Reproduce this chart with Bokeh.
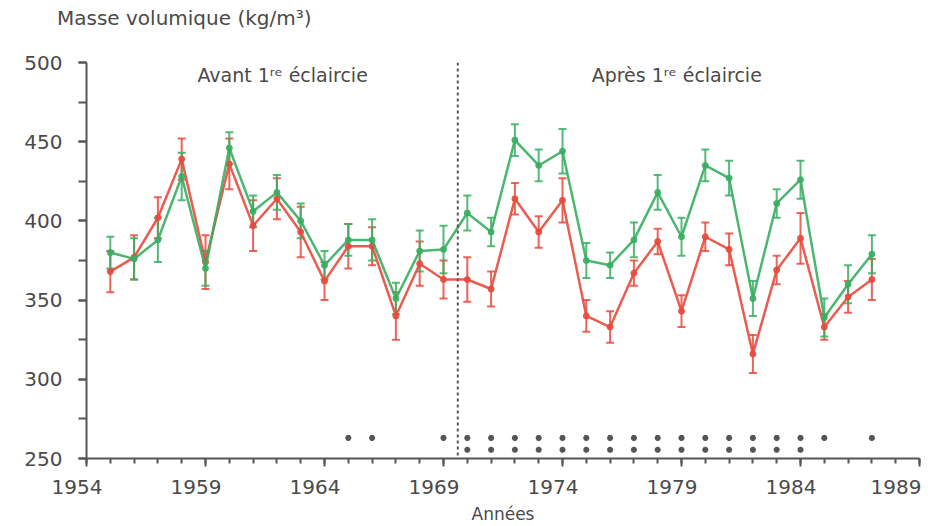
from bokeh.plotting import figure
from bokeh.layouts import column
from bokeh.models import (ColumnDataSource, Range1d, FixedTicker, SingleIntervalTicker,
                          Whisker, TeeHead, Span, Div)
from bokeh.core.properties import value
from bokeh.embed import file_html
from bokeh.resources import INLINE

# Wood density per ring year, two stand groups, with standard errors
years = list(range(1955, 1988))

green_mean = [380, 376, 388, 428, 370, 446, 406, 418, 400, 372, 388, 388, 351, 381, 382,
              405, 393, 451, 435, 444, 375, 372, 388, 418, 390, 435, 427, 351, 411, 426,
              339, 360, 379]
green_err = [10, 13, 14, 15, 11, 10, 10, 11, 11, 9, 10, 13, 10, 13, 15,
             11, 9, 10, 10, 14, 11, 8, 11, 11, 12, 10, 11, 11, 9, 12,
             12, 12, 12]

red_mean = [368, 377, 402, 439, 374, 436, 397, 414, 393, 362, 384, 384, 340, 373, 363,
            363, 357, 414, 393, 413, 340, 333, 367, 387, 343, 390, 382, 316, 369, 389,
            333, 352, 363]
red_err = [13, 14, 13, 13, 17, 16, 16, 13, 16, 12, 14, 12, 15, 14, 12,
           14, 11, 10, 10, 14, 10, 10, 8, 8, 10, 9, 10, 12, 9, 16,
           8, 10, 13]

# Years with a significant difference (one or two stars)
star_row1_years = [1965, 1966, 1969] + list(range(1970, 1986)) + [1987]
star_row2_years = list(range(1970, 1985))
star_row1_level = 263
star_row2_level = 255.5

thinning_year = 1969.6

x_ticks = [1954, 1959, 1964, 1969, 1974, 1979, 1984, 1989]

GREEN = "#38ae62"
RED = "#e84a3d"
INK = "#4a4a4a"
AXIS = "#555555"
FONT = "DejaVu Sans"
HEADER_H = 36

src = ColumnDataSource(data=dict(
    year=years,
    g=green_mean, g_lo=[m - e for m, e in zip(green_mean, green_err)],
    g_hi=[m + e for m, e in zip(green_mean, green_err)],
    r=red_mean, r_lo=[m - e for m, e in zip(red_mean, red_err)],
    r_hi=[m + e for m, e in zip(red_mean, red_err)],
))

header = Div(
    text=(f'<div style="font-family:\'{FONT}\';font-size:20px;color:{INK};'
          f'padding-left:57px;line-height:{HEADER_H}px;white-space:nowrap;">'
          'Masse volumique (kg/m³)</div>'),
    width=940, height=HEADER_H, margin=(0, 0, 0, 0))

p = figure(width=940, height=526 - HEADER_H, output_backend="svg", toolbar_location=None,
           x_range=Range1d(1954, 1989), y_range=Range1d(250, 500),
           min_border_left=86, min_border_right=21, min_border_top=62 - HEADER_H,
           min_border_bottom=68, margin=(0, 0, 0, 0))
p.outline_line_color = None
p.xgrid.visible = False
p.ygrid.visible = False

# Thinning date
p.add_layout(Span(location=thinning_year, dimension="height", line_color=AXIS,
                  line_width=2, line_dash="3 3"))

# Series: red under green
for col, lo, hi, color in (("r", "r_lo", "r_hi", RED), ("g", "g_lo", "g_hi", GREEN)):
    p.line("year", col, source=src, line_color=color, line_width=2.5, line_alpha=0.9)
    p.scatter("year", col, source=src, size=6, fill_color=color, line_color=color, alpha=0.9)
    w = Whisker(source=src, base="year", lower=lo, upper=hi, line_color=color,
                line_width=2, line_alpha=0.85,
                upper_head=TeeHead(size=8, line_color=color, line_width=2, line_alpha=0.85),
                lower_head=TeeHead(size=8, line_color=color, line_width=2, line_alpha=0.85))
    p.add_layout(w)

# Significance stars
p.scatter(star_row1_years, [star_row1_level] * len(star_row1_years), marker="asterisk",
          size=6, line_color=AXIS, line_width=2)
p.scatter(star_row2_years, [star_row2_level] * len(star_row2_years), marker="asterisk",
          size=6, line_color=AXIS, line_width=2)

# Period labels
p.text(x=[1962.24, 1978.8], y=[491.8, 491.8],
       text=["Avant 1ʳᵉ éclaircie", "Après 1ʳᵉ éclaircie"],
       text_align="center", text_baseline="middle", text_font=value(FONT),
       text_font_size="19px", text_color=INK)

# Axes; year labels padded on the right so they sit slightly left of their ticks
xa = p.xaxis[0]
xa.ticker = FixedTicker(ticks=x_ticks, minor_ticks=list(range(1954, 1990)))
xa.major_label_overrides = {t: f"{t}\u00a0\u00a0\u00a0" for t in x_ticks}
xa.major_tick_out = 8
xa.minor_tick_out = 5
xa.major_label_standoff = 8
xa.major_label_text_font_size = "20px"
xa.axis_label = "Années"
xa.axis_label_standoff = 2
xa.axis_label_text_font = FONT
xa.axis_label_text_font_size = "17px"
xa.axis_label_text_font_style = "normal"
xa.axis_label_text_color = INK

ya = p.yaxis[0]
ya.ticker = SingleIntervalTicker(interval=50, num_minor_ticks=2)
ya.major_tick_out = 8
ya.minor_tick_out = 8
ya.major_label_standoff = 16
ya.major_label_text_font_size = "20px"

for ax in (xa, ya):
    ax.axis_line_color = AXIS
    ax.axis_line_width = 2
    ax.major_tick_line_color = AXIS
    ax.major_tick_line_width = 2
    ax.minor_tick_line_color = AXIS
    ax.minor_tick_line_width = 2
    ax.major_tick_in = 0
    ax.minor_tick_in = 0
    ax.major_label_text_font = FONT
    ax.major_label_text_color = INK

layout = column(header, p, spacing=0)
open("out.html", "w").write(file_html(layout, INLINE))
